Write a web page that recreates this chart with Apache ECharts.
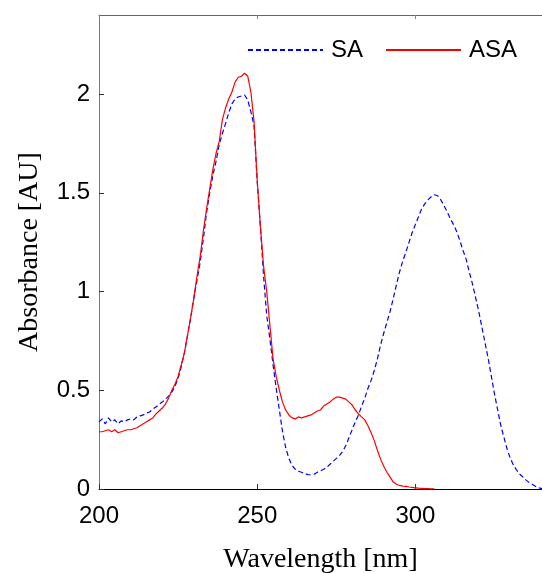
<!DOCTYPE html>
<html>
<head>
<meta charset="utf-8">
<script src="https://cdn.jsdelivr.net/npm/echarts@6/dist/echarts.min.js"></script>
<style>html,body{margin:0;padding:0;background:#fff}#c{width:542px;height:573px}</style>
</head>
<body>
<div id="c"></div>
<script>
var saWavelengths = [200,201,202,203,204,205,206,207,208,209,210,211,212,213,214,215,216,217,218,219,220,221,222,223,224,225,226,227,228,229,230,231,232,233,234,235,236,237,238,239,240,241,242,243,244,245,246,247,248,249,250,251,252,253,254,255,256,257,258,259,260,261,262,263,264,265,266,267,268,269,270,271,272,273,274,275,276,277,278,279,280,281,282,283,284,285,286,287,288,289,290,291,292,293,294,295,296,297,298,299,300,301,302,303,304,305,306,307,308,309,310,311,312,313,314,315,316,317,318,319,320,321,322,323,324,325,326,327,328,329,330,331,332,333,334,335,336,337,338,339,340];
var saValues = [0.34,0.355,0.33,0.36,0.34,0.35,0.33,0.345,0.34,0.35,0.355,0.35,0.365,0.37,0.375,0.385,0.39,0.405,0.415,0.43,0.44,0.455,0.47,0.49,0.52,0.56,0.62,0.69,0.78,0.87,0.97,1.06,1.15,1.27,1.40,1.50,1.59,1.66,1.745,1.80,1.85,1.905,1.95,1.975,1.985,1.99,1.995,1.97,1.91,1.84,1.56,1.33,1.08,0.88,0.76,0.63,0.51,0.40,0.29,0.21,0.155,0.12,0.10,0.09,0.085,0.078,0.073,0.072,0.075,0.085,0.092,0.10,0.11,0.125,0.14,0.155,0.17,0.19,0.22,0.26,0.30,0.34,0.375,0.42,0.46,0.51,0.55,0.60,0.66,0.73,0.79,0.845,0.90,0.965,1.035,1.10,1.155,1.20,1.25,1.30,1.34,1.38,1.42,1.445,1.465,1.48,1.49,1.485,1.465,1.435,1.405,1.37,1.34,1.305,1.26,1.21,1.165,1.10,1.04,0.97,0.90,0.82,0.74,0.66,0.57,0.48,0.40,0.32,0.26,0.20,0.155,0.12,0.095,0.075,0.06,0.045,0.032,0.023,0.013,0.006,0.002];
var asaWavelengths = [200,201,202,203,204,205,206,207,208,209,210,211,212,213,214,215,216,217,218,219,220,221,222,223,224,225,226,227,228,229,230,231,232,233,234,235,236,237,238,239,240,241,242,243,244,245,246,247,248,249,250,251,252,253,254,255,256,257,258,259,260,261,262,263,264,265,266,267,268,269,270,271,272,273,274,275,276,277,278,279,280,281,282,283,284,285,286,287,288,289,290,291,292,293,294,295,296,297,298,299,300,301,302,303,304,305,306];
var asaValues = [0.29,0.29,0.295,0.30,0.29,0.30,0.285,0.29,0.295,0.30,0.30,0.305,0.31,0.32,0.33,0.34,0.35,0.36,0.38,0.395,0.41,0.43,0.46,0.50,0.53,0.57,0.63,0.69,0.78,0.87,0.97,1.08,1.18,1.31,1.42,1.52,1.62,1.70,1.76,1.87,1.93,1.975,2.01,2.06,2.085,2.09,2.105,2.09,2.01,1.86,1.56,1.33,1.13,1.00,0.83,0.66,0.57,0.50,0.44,0.40,0.375,0.36,0.355,0.365,0.36,0.365,0.37,0.375,0.385,0.395,0.40,0.42,0.43,0.44,0.455,0.465,0.465,0.46,0.455,0.44,0.425,0.40,0.38,0.365,0.35,0.32,0.285,0.245,0.195,0.15,0.115,0.085,0.06,0.035,0.024,0.018,0.015,0.013,0.01,0.008,0.006,0.004,0.003,0.002,0.002,0.001,0.001];
var xTicks = [200,250,300];
var yTicks = [0,0.5,1,1.5,2];
var seriesNames = ['SA','ASA'];

function pairs(xs, ys){ return xs.map(function(x,i){ return [x, ys[i]]; }); }

var chart = echarts.init(document.getElementById('c'), null, {renderer:'canvas'});
chart.setOption({
  animation: false,
  backgroundColor: '#fff',
  grid: {left: 99, top: 15, right: 0, bottom: 84, containLabel: false, outerBoundsMode: 'none'},
  legend: {
    left: 247, top: 38, padding: 0, itemGap: 22, itemWidth: 75, itemHeight: 12,
    data: seriesNames,
    itemStyle: {opacity: 0, borderWidth: 0},
    textStyle: {fontFamily: 'Liberation Sans', fontSize: 24, color: '#000', padding: [0,0,0,3]}
  },
  xAxis: [{
    type: 'value', min: 200, max: 340, interval: 50,
    name: 'Wavelength [nm]', nameLocation: 'middle', nameGap: 57,
    nameTextStyle: {fontFamily: 'Liberation Serif', fontSize: 28, color: '#000'},
    axisLine: {lineStyle: {color: '#000', width: 1}},
    axisTick: {inside: true, length: 5, customValues: xTicks, lineStyle: {color: '#333'}},
    axisLabel: {customValues: xTicks, margin: 15, fontFamily: 'Liberation Sans', fontSize: 24, color: '#000'},
    splitLine: {show: false}
  }, {
    type: 'value', position: 'top', min: 200, max: 340, interval: 50,
    axisLine: {show: true, lineStyle: {color: '#666', width: 1}},
    axisTick: {inside: true, length: 4, customValues: xTicks, lineStyle: {color: '#888'}},
    axisLabel: {show: false}, splitLine: {show: false}
  }],
  yAxis: {
    type: 'value', min: 0, max: 2.4, interval: 0.5,
    name: 'Absorbance [AU]', nameLocation: 'middle', nameGap: 55, nameRotate: 90,
    nameTextStyle: {fontFamily: 'Liberation Serif', fontSize: 28, color: '#000'},
    axisLine: {show: true, lineStyle: {color: '#777', width: 1}},
    axisTick: {show: true, inside: true, length: 5, customValues: yTicks, lineStyle: {color: '#333'}},
    axisLabel: {customValues: yTicks, margin: 9, fontFamily: 'Liberation Sans', fontSize: 24, color: '#000'},
    splitLine: {show: false}
  },
  series: [{
    name: seriesNames[0], type: 'line', showSymbol: false, symbol: 'none',
    data: pairs(saWavelengths, saValues),
    itemStyle: {color: '#0000ff'},
    lineStyle: {color: '#0000ff', width: 1.2, type: [5,3]},
    z: 2
  }, {
    name: seriesNames[1], type: 'line', showSymbol: false, symbol: 'none',
    data: pairs(asaWavelengths, asaValues),
    itemStyle: {color: '#ff0000'},
    lineStyle: {color: '#ff0000', width: 1.2},
    z: 3
  }]
});
</script>
</body>
</html>
